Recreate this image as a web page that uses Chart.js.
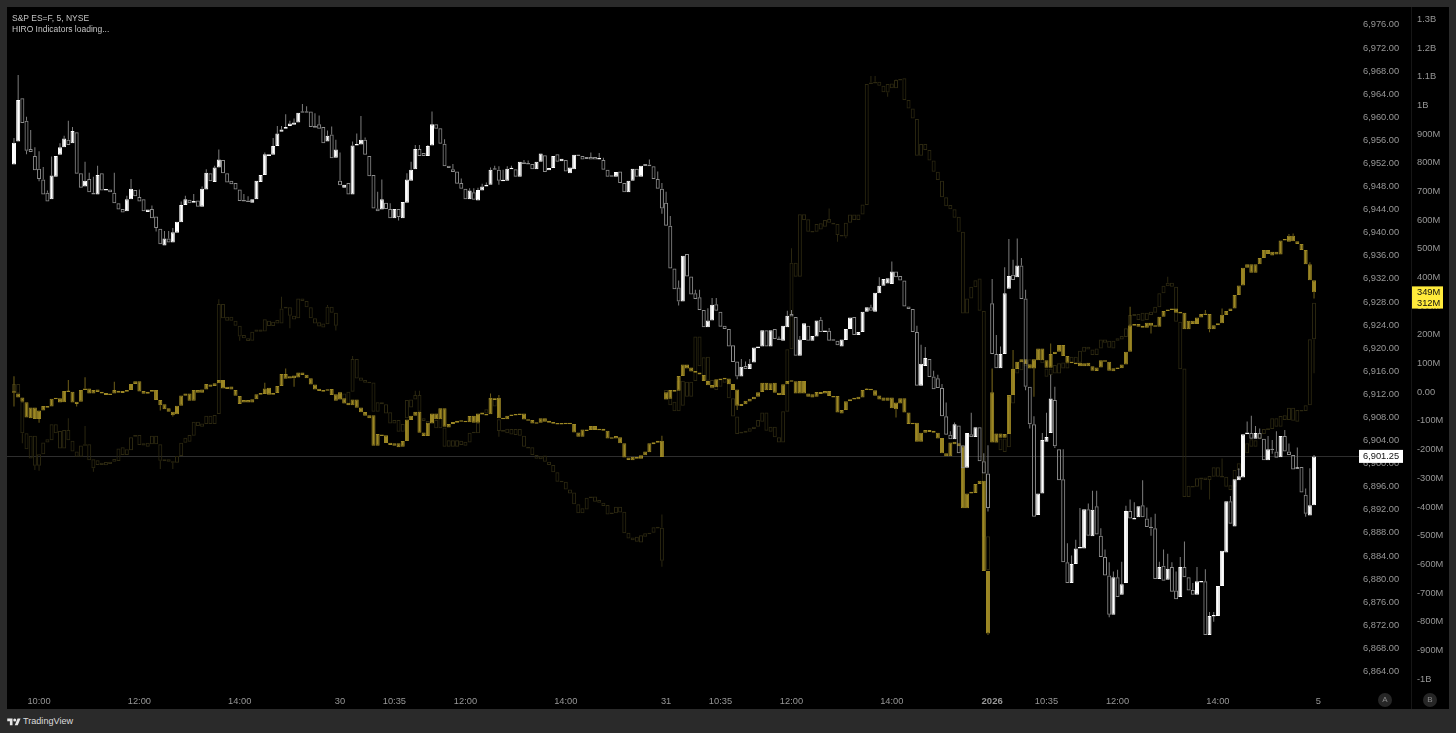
<!DOCTYPE html>
<html>
<head>
<meta charset="utf-8">
<title>S&amp;P ES=F HIRO</title>
<script src="https://cdn.jsdelivr.net/npm/chart.js@4/dist/chart.umd.min.js"></script>
<style>
    html, body { margin: 0; height: 100%; background: #2a2a2a; overflow: hidden; font-family: "Liberation Sans", sans-serif; }
    #panel { position: absolute; left: 7px; top: 7px; width: 1442px; height: 702px; background: #000; }
    #legend { position: absolute; left: 12px; top: 13px; font-size: 8.5px; line-height: 11px; color: #c4c4c4; }
    .badge { position: absolute; top: 693px; width: 14px; height: 14px; border-radius: 7px; background: #262626; color: #8a8a8a; font-size: 8px; line-height: 14px; text-align: center; }
    #brand { position: absolute; left: 7px; top: 714px; height: 14px; display: flex; align-items: center; gap: 2px; color: #dcdcdc; font-size: 9.1px; }
</style>
</head>
<body>
<div id="panel"><canvas id="myChart"></canvas></div>
<div id="legend">S&amp;P ES=F, 5, NYSE<br>HIRO Indicators loading...</div>
<div class="badge" style="left:1378px">A</div>
<div class="badge" style="left:1423px">B</div>
<div id="brand">
    <svg width="14" height="9" viewBox="0 0 36 24"><path fill="#e6e6e6" d="M14 22H7V11H0V4h14v18zM28 22h-8l7.5-18h8L28 22z"/><circle fill="#e6e6e6" cx="20" cy="8" r="4"/></svg>
    <span>TradingView</span>
</div>
<script>
// ── ES=F 5 min candles, four sessions ──
const esOpen = [
    6951.8,6955.8,6963.3,6959.4,6954.5,6953.3,6951.1,6949.2,6946.9,6945.8,
    6949.7,6953.5,6954.8,6956.1,6955.5,6957.4,6950.3,6948,6949.3,6946.9,
    6946.6,6950.3,6947.3,6947.5,6946.9,6945.1,6944.1,6943.7,6945.8,6947.4,
    6946.2,6945.8,6943.6,6944.1,6942.8,6940.7,6937.8,6939,6938.3,6940,
    6941.8,6944.8,6945.7,6945.2,6945.6,6944.5,6947.5,6950.3,6948.8,6951.3,
    6952.6,6950.3,6949,6948.6,6947.5,6945.7,6945.6,6945.2,6945.8,6948.8,
    6950,6953.3,6953.5,6955,6957.5,6958,6958.5,6958.7,6959.1,6961,
    6961,6961,6958.5,6958.8,6958.3,6955.8,6957,6953,6949,6947.8,
    6948.6,6946.6,6955.1,6955.3,6956.1,6953.3,6950,6944.2,6944,6945.2,
    6944.1,6942.5,6944.1,6942.5,6945.2,6949,6951,6954.5,6953.8,6953.3,
    6955.1,6958.8,6958.1,6955.4,6951.6,6951,6950.6,6948.6,6947.6,6945.8,
    6947,6945.6,6947.3,6948,6948.3,6951.1,6950.9,6948.9,6949,6951,
    6951,6949.7,6952.2,6951.9,6951.9,6951,6952.3,6953.4,6950.8,6951.2,
    6953.6,6952.4,6952.6,6950.3,6951,6953.5,6953.3,6952.8,6953.1,6953.1,
    6952.7,6952.6,6950.9,6949.8,6949.7,6950.6,6948.6,6947,6949,6951.1,
    6949.7,6951.6,6951.8,6951.5,6949.3,6947.6,6945.2,6941.2,6933.8,6930.5,
    6928.1,6936.3,6932.4,6929.5,6928.8,6926.6,6923.6,6924.8,6927.6,6926.3,
    6923.9,6923.3,6920.5,6917.7,6915.1,6916.9,6916.4,6917.5,6920,6920.3,
    6923.1,6920.3,6923.3,6921.5,6921.3,6923.6,6925.9,6925.4,6918.7,6921.4,
    6923.9,6921.3,6922,6924.9,6922.8,6923,6921.4,6921.3,6920.3,6921.4,
    6923.3,6925.4,6922.3,6922.8,6926.3,6927.1,6926.3,6929.5,6930.8,6931.2,
    6931.1,6933.3,6932.5,6931.7,6927.2,6926.8,6922.8,6913.5,6916.9,6918.1,
    6915.1,6914.8,6913.1,6908.2,6905,6904.2,6906.6,6903.2,6899.3,6905.1,
    6904.6,6906.3,6900.4,6898.3,6927.8,6919,6916.5,6919,6930.3,6932.7,
    6932.3,6934.3,6928.6,6913.3,6906.8,6891.1,6894.8,6903.8,6905.3,6911,
    6902.5,6897.3,6882.9,6879.3,6882.6,6885.3,6885.3,6892.1,6887.4,6892.6,
    6887.5,6883.8,6880.6,6873.8,6880.3,6877.3,6879.3,6891.8,6890.3,6890.7,
    6892.8,6890.5,6889,6888.8,6880,6882.3,6879.9,6882.1,6878,6876.9,
    6882.1,6880.3,6878.1,6877.3,6879.4,6879.6,6870.3,6873.5,6873.6,6878.8,
    6884.6,6893.5,6889.1,6897.1,6897.6,6905.1,6905.3,6904.3,6905.3,6904.3,
    6900.6,6902.5,6902.1,6901.1,6904.8,6902.1,6901.5,6899.1,6899.4,6894.6,6891,6892.8
];
const esClose = [
    6955.6,6963,6959,6954.2,6954,6950.8,6949.3,6946.6,6945.4,6949.9,
    6953.3,6954.8,6956.3,6955.2,6957.6,6950.2,6947.8,6949,6947,6946.6,
    6950,6947.3,6947.5,6947,6945.1,6944,6943.5,6945.8,6947.6,6946.3,
    6945.4,6943.7,6944,6942.5,6940.8,6938,6939,6938.3,6940.1,6941.9,
    6944.8,6945.8,6945.1,6945.5,6944.5,6947.6,6950.4,6948.9,6951.3,6952.7,
    6950.3,6948.7,6948.4,6947.5,6945.5,6945.4,6945.3,6945.8,6949,6950,
    6953.6,6953.6,6955,6957.2,6957.9,6958.3,6958.9,6959.1,6960.8,6960.8,
    6960.8,6958.3,6958.2,6958,6955.5,6956.8,6952.9,6954.4,6948.2,6948.3,
    6946.6,6955.1,6955.3,6956.1,6953.5,6949.8,6944.2,6943.7,6945.8,6944.1,
    6942.5,6944.1,6942.7,6945.3,6949.2,6950.9,6954.5,6953.3,6953.3,6955,
    6958.8,6958,6955.4,6951.5,6951.2,6950.5,6948.5,6947.6,6945.8,6947.3,
    6945.7,6947.4,6948,6948.3,6950.9,6950.9,6949,6949,6951.1,6951.1,
    6949.7,6952.3,6951.9,6951.8,6951,6952.3,6953.7,6950.5,6951.2,6953.3,
    6952.3,6952.8,6950.6,6951.3,6953.5,6953.3,6952.7,6953,6952.7,6952.7,
    6953,6950.9,6949.7,6949.7,6950.5,6948.6,6947,6949,6951.1,6949.7,
    6951.6,6951.8,6951.5,6949.3,6947.6,6944.2,6941.2,6933.8,6930.2,6928.1,
    6936,6932.4,6929.3,6928.5,6926.6,6923.6,6924.8,6927.5,6926.5,6923.7,
    6923.3,6920.3,6917.6,6915.1,6916.8,6916.4,6917.3,6920.1,6920.3,6923.1,
    6920.3,6923.1,6921.6,6921.4,6923.9,6925.6,6925.5,6918.7,6921.5,6924.3,
    6921.3,6922.1,6924.8,6922.8,6923,6921.3,6921.3,6920.5,6921.5,6923.3,
    6925.3,6922.3,6922.8,6926.3,6927.1,6926.5,6929.6,6930.8,6932,6932.1,
    6933.3,6932.3,6931.7,6927.2,6926.8,6922.8,6913.5,6917.3,6918.3,6915,
    6912.9,6913.1,6908.2,6905,6904.2,6906.8,6901.8,6899.2,6905.3,6904.6,
    6906.3,6900.4,6898.3,6892.3,6919,6916.5,6919,6929.5,6932.5,6931.8,
    6934.3,6928.5,6913.3,6906.8,6890.8,6894.8,6904.1,6904.6,6911.3,6903,
    6897.1,6882.9,6879.3,6882.6,6885.3,6885.5,6892.1,6887.5,6892,6887.7,
    6883.8,6880.6,6873.8,6880.3,6876.9,6879.1,6891.8,6890.5,6890.5,6892.6,
    6890.7,6889,6888.8,6880,6882.1,6879.7,6881.8,6877.8,6876.5,6882.1,
    6880.3,6878,6877.3,6879.6,6879.6,6870.3,6873.6,6873.6,6878.8,6884.9,
    6893.5,6889.6,6897.3,6897.8,6905.1,6905.4,6904.3,6905.3,6904.3,6900.6,
    6902.5,6902.3,6901,6904.8,6902.1,6901.5,6899,6899.3,6895,6891.3,6892.8,6901.25
];
// wicks: [bar, price]
const esHighs = [
    [0,6956.4],[1,6967.3],[3,6960.1],[4,6957.8],[5,6954.8],[6,6954.1],[7,6951.4],[8,6947.3],[9,6953.2],[11,6955.5],[12,6956.8],[13,6959.4],[14,6958.3],
    [17,6952.3],[18,6950.4],[19,6949.7],[20,6951.6],[24,6950.4],[27,6946.4],[28,6949.3],[30,6947.5],[33,6944.7],[36,6940.3],[37,6940.3],[38,6940.8],[40,6945.4],[41,6946.4],
    [43,6946.7],[45,6948],[46,6951],[48,6951.6],[49,6954.4],[55,6946.7],[56,6946.3],[60,6953.9],[62,6956.4],[63,6958.5],[64,6958.5],[65,6960.5],[66,6959.4],[67,6959.8],
    [69,6962.3],[70,6961.9],[72,6960.7],[73,6960.3],[75,6957.7],[76,6958.4],[77,6956.1],[78,6953.9],[81,6955.8],[82,6957.2],[83,6960.2],[84,6956.5],[87,6947.1],[88,6949.2],
    [90,6945.1],[94,6950.3],[95,6952.3],[96,6955.2],[97,6955.2],[99,6955.2],[100,6961],[103,6956.2],[105,6951.9],[107,6949.4],[109,6947.7],[110,6947.7],[111,6947.8],[112,6948.5],
    [113,6948.7],[114,6951.3],[115,6951.6],[116,6951.5],[117,6950.9],[118,6951.5],[119,6951.6],[122,6952.6],[123,6952.5],[138,6953.9],[140,6953.8],[141,6953],[152,6952.7],
    [154,6950.6],[155,6948.6],[156,6947.1],[157,6942.9],[159,6931.7],[163,6930.1],[164,6930.1],[166,6926.9],[167,6928.7],[168,6928.7],[174,6918.1],[175,6917.7],[176,6918.1],
    [183,6922],[185,6926.5],[186,6926.6],[188,6922.1],[193,6925.4],[195,6923.5],[205,6927.5],[207,6932.3],[210,6935],[216,6923.9],[217,6920.6],[218,6920.2],[220,6916.1],
    [221,6915.4],[222,6913.8],[223,6910.6],[224,6905.6],[225,6907.1],[229,6908.8],[232,6901.8],[233,6903.2],[234,6932],[235,6922.3],[236,6920.3],[237,6934],[238,6938.9],
    [239,6935.3],[240,6939],[241,6935.6],[242,6930.1],[244,6908.2],[246,6905.3],[247,6908.8],[248,6915.4],[249,6913.3],[251,6902.5],[252,6886.2],[253,6884.1],[254,6886.8],
    [255,6892.3],[257,6893.1],[258,6895.3],[259,6895.3],[260,6888.8],[261,6885.1],[262,6882.9],[263,6881.3],[264,6881.6],[265,6883],[266,6892.7],[267,6893.8],[268,6893.3],
    [270,6897.1],[271,6892.4],[272,6890.7],[273,6891.3],[274,6883],[275,6885.1],[276,6884.4],[277,6882.9],[278,6881.3],[279,6883.8],[280,6886.5],[282,6879.3],[283,6882.1],
    [285,6881.7],[286,6874.3],[287,6874.3],[291,6894.4],[293,6899.2],[295,6907.3],[296,6908.3],[297,6906.5],[298,6906.1],[300,6904.8],[301,6904.1],[302,6905.6],[304,6905.8],
    [305,6903.5],[307,6902.8],[309,6895.7],[310,6899.2],[311,6901.5]
];
const esLows = [
    [3,6953.6],[6,6948.9],[34,6940.2],[92,6942.1],[116,6948.3],[155,6943.3],[159,6927.4],[173,6914.6],[233,6891.7],[242,6912.7],[243,6906.1],[249,6902.7],[262,6873.4],
    [272,6887.5],[287,6872.6],[301,6901.7],[309,6890.8]
];

// ── HIRO trace 349M, filled candles, in millions ──
const hiroATop = [
    2,-4,-18,-35,-53,-53,-64,-48,-48,-23,-19,-21,4,3,2,-33,8,13,13,8,
    10,2,-3,-4,8,5,4,8,29,38,38,4,2,8,8,-27,-42,-56,-68,-47,
    -11,-4,-4,8,8,10,29,27,31,43,43,19,20,8,-13,-27,-27,-24,-7,-3,
    13,16,-3,22,64,64,56,58,69,69,61,49,27,12,8,10,11,-7,0,-21,
    -37,-25,-25,-53,-69,-80,-80,-146,-147,-150,-176,-178,-178,-170,-95,-82,-68,-68,-140,-106,
    -74,-74,-56,-56,-111,-104,-99,-98,-99,-83,-82,-74,-71,-76,-19,-21,-19,-89,-82,-78,
    -76,-74,-74,-94,-97,-105,-91,-91,-99,-104,-107,-107,-106,-106,-111,-140,-130,-130,-118,-118,
    -127,-127,-134,-157,-153,-157,-178,-228,-225,-226,-220,-207,-178,-174,-169,-169,
    0,8,8,57,97,97,86,74,69,60,39,25,45,48,48,48,29,10,-41,-30,
    -23,-16,0,33,33,31,33,-2,28,39,39,38,39,39,-4,-7,1,1,4,4,
    -13,-13,-62,-31,-24,-19,-16,8,10,9,7,-11,-18,-18,-18,-36,-21,-21,-71,-106,
    -106,-141,-132,-132,-134,-141,-160,-213,-175,-173,-178,-188,-353,-347,-320,-309,-309,-623,
    0,-144,-144,-146,-10,81,106,115,115,98,115,153,153,112,133,141,165,165,126,104,
    103,103,101,103,91,86,112,112,106,84,85,97,141,234,238,238,232,242,242,232,
    263,283,289,291,292,281,277,249,249,261,273,275,273,234,241,270,283,292,339,372,
    434,446,446,446,468,496,496,490,490,529,533,546,546,527,517,496,446,391
];
const hiroABottom = [
    -2,-18,-33,-88,-91,-93,-93,-64,-54,-50,-21,-36,-35,1,-36,-41,-33,8,-4,-4,
    1,-4,-10,-10,-4,-2,-3,2,8,29,3,-5,-5,2,-27,-45,-59,-68,-80,-77,
    -47,-12,-30,-30,-2,-2,10,19,22,31,13,11,10,-12,-41,-36,-36,-36,-24,-9,
    -6,-9,-9,-3,22,47,48,49,51,60,49,27,10,4,2,5,-10,-30,-24,-39,
    -45,-45,-54,-70,-82,-91,-187,-187,-153,-177,-184,-187,-192,-190,-170,-97,-82,-141,-153,-153,
    -109,-94,-94,-120,-123,-111,-106,-103,-104,-105,-106,-106,-77,-81,-77,-27,-91,-94,-94,-83,
    -81,-76,-95,-99,-109,-109,-106,-103,-106,-110,-112,-112,-111,-111,-140,-155,-155,-132,-132,-132,
    -132,-134,-161,-161,-161,-178,-228,-236,-237,-232,-232,-220,-209,-181,-176,-226,
    -24,-23,2,5,57,83,72,68,62,39,24,16,17,43,45,28,8,-47,-48,-42,
    -32,-24,-16,1,7,8,-2,-10,-10,28,37,-4,-4,-4,-16,-18,-16,-6,-4,-13,
    -16,-71,-74,-62,-31,-25,-24,-18,8,7,-12,-25,-30,-30,-56,-59,-39,-71,-111,-108,
    -173,-173,-141,-139,-141,-161,-213,-223,-223,-181,-188,-405,-405,-353,-351,-320,-623,-841,
    -175,-175,-159,-159,-146,-10,81,105,98,83,83,112,112,85,85,133,141,126,103,101,
    98,91,91,91,75,74,86,106,75,73,81,84,97,141,232,228,225,225,232,228,
    228,263,283,287,277,275,220,220,238,238,261,269,220,220,234,241,269,283,292,339,
    372,434,417,417,446,468,482,477,480,480,529,525,527,517,496,446,391,349
];
const hiroAHighs = [
    [0,56],[13,43],[17,52],[24,37],[60,33],[65,83],[114,-4],[116,-10],[155,-152],[204,13],[234,83],[239,147],[248,170],[267,298],[285,287],[289,292],[305,552],[306,554],[310,453]
];
const hiroALows = [
    [0,-50],[6,-106],[15,-50],[35,-64],[38,-85],[67,19],[173,-62],[211,-88],[233,-847],[244,-16],[272,205],[286,209],[311,327]
];

// ── HIRO trace 312M, faint hollow candles, in millions ──
const hiroBTop = [
    29,29,-33,-143,-152,-152,-216,-175,-164,-112,-112,-135,-132,-132,-169,-207,-186,-181,-181,-234,
    -237,-246,-243,-242,-233,-196,-192,-199,-157,-149,-149,-178,-176,-152,-152,-181,-234,-234,-241,-222,
    -176,-159,-149,-103,-103,-109,-82,-82,-79,308,308,263,263,249,232,200,188,211,219,219,
    255,249,246,252,292,298,296,267,327,327,318,296,258,244,240,298,298,277,2,-4,
    2,116,116,51,43,34,34,-35,-35,-42,-70,-97,-97,-111,-27,-25,-10,-10,-91,-100,
    -91,-97,-56,-123,-167,-167,-167,-169,-173,-141,-138,-106,-74,-59,-21,-21,-94,-132,-127,-128,
    -128,-128,-152,-190,-192,-219,-223,-221,-242,-254,-279,-309,-312,-339,-350,-391,-405,-368,-364,-364,
    -376,-385,-393,-419,-399,-399,-417,-490,-507,-504,-499,-492,-490,-471,-469,-473,
    8,-19,-33,40,40,37,37,194,194,122,124,43,43,45,48,31,-21,-85,-138,-134,
    -126,-120,-97,-71,-71,-120,-120,-157,-66,150,452,452,621,621,603,562,587,589,601,604,
    591,587,548,591,620,620,620,655,1075,1080,1083,1083,1069,1075,1077,1089,1092,1095,1019,990,
    953,866,866,845,808,769,738,680,653,638,612,560,327,368,391,397,283,-502,
    -132,-144,-161,-161,-10,83,106,112,112,115,115,147,147,83,83,95,101,104,104,124,
    124,145,159,159,149,153,184,184,180,180,188,196,223,269,273,273,277,277,281,298,
    345,371,382,382,368,246,83,-326,-327,-300,-297,-297,-292,-262,-262,-292,-295,-324,-271,-248,
    -213,-178,-164,-167,-144,-128,-126,-91,-91,-83,-80,-54,-54,-62,-62,-45,185,312
];
const hiroBBottom = [
    2,-4,-143,-199,-231,-256,-256,-216,-175,-167,-143,-196,-196,-167,-207,-225,-225,-186,-237,-265,
    -254,-254,-255,-250,-242,-240,-219,-219,-202,-155,-184,-186,-190,-181,-181,-239,-241,-242,-246,-246,
    -222,-176,-173,-152,-118,-120,-111,-111,-111,-76,258,249,249,232,194,188,179,180,211,211,
    212,231,231,240,240,292,267,254,258,318,296,258,240,229,226,237,277,232,-27,-39,
    -45,2,48,40,33,31,-68,-68,-42,-74,-109,-109,-138,-138,-91,-53,-25,-68,-100,-114,
    -103,-126,-126,-190,-190,-190,-190,-184,-187,-175,-143,-143,-79,-74,-27,-50,-135,-138,-143,-147,
    -149,-152,-190,-196,-219,-232,-234,-242,-254,-279,-312,-314,-339,-353,-391,-422,-422,-409,-368,-382,
    -385,-397,-426,-422,-422,-419,-492,-510,-516,-521,-524,-504,-495,-490,-475,-588,
    -27,-45,-66,-66,-47,-16,-16,39,91,43,40,13,8,19,33,-21,-85,-146,-144,-141,
    -138,-128,-120,-103,-134,-138,-157,-175,-175,-68,150,403,403,601,560,557,560,568,577,591,
    585,548,543,543,591,601,601,620,653,1075,1077,1069,1046,1045,1060,1060,1087,1019,990,955,
    825,825,845,808,769,740,680,649,638,609,560,275,275,327,366,284,-504,-620,
    -175,-178,-202,-208,-192,-39,65,77,91,87,83,112,101,54,60,65,65,83,83,103,
    101,103,141,149,130,130,153,173,155,153,180,184,193,234,266,252,249,252,269,277,
    296,345,370,368,246,80,-365,-365,-332,-330,-304,-306,-306,-295,-295,-297,-330,-341,-330,-271,
    -248,-213,-190,-190,-164,-146,-132,-128,-120,-120,-97,-97,-99,-103,-66,-65,-45,185
];
const hiroBHighs = [
    [13,-91],[17,-118],[49,324],[64,333],[75,304],[81,126],[96,5],[97,5],[155,-426],[186,502],[195,641],[205,1103],[206,1103],[211,1091],[234,83],[276,403],[289,-231]
];
const hiroBLows = [
    [2,-178],[5,-271],[6,-274],[19,-277],[35,-268],[38,-268],[54,180],[66,223],[77,215],[116,-155],[155,-609],[197,525],[199,537],[209,1031],[284,-340],[286,-374],[311,66]
];

// ── axes ──
const priceTicks = [6976,6972,6968,6964,6960,6956,6952,6948,6944,6940,6936,6932,6928,6924,6920,6916,6912,6908,6904,6900,6896,6892,6888,6884,6880,6876,6872,6868,6864];
const hiroTicks = [1300,1200,1100,1000,900,800,700,600,500,400,300,200,100,0,-100,-200,-300,-400,-500,-600,-700,-800,-900,-1000];
const timeBars = [6,30,54,78,91,108,132,156,169,186,210,234,247,264,288,312];
const timeLabels = ['10:00','12:00','14:00','30','10:35','12:00','14:00','31','10:35','12:00','14:00','2026','10:35','12:00','14:00','5'];
const lastPrice = 6901.25, lastA = 349, lastB = 312;

const FONT = '"Liberation Sans", sans-serif';

function fmtHiro(v) {
    if (v === 0) return '0.00';
    return Math.abs(v) >= 1000 ? (v / 1000) + 'B' : v + 'M';
}

function wickData(pairs, tops) {
    return pairs.map(([i, v]) => ({ x: i, y: [tops[i], v] }));
}

function maxOf(a, b) { return a.map((v, i) => Math.max(v, b[i])); }
function minOf(a, b) { return a.map((v, i) => Math.min(v, b[i])); }

const bodyBase = { type: 'bar', barThickness: 4, barPercentage: 1, categoryPercentage: 1, minBarLength: 1.5, borderWidth: 1, borderSkipped: false, inflateAmount: 0 };
const wickBase = { type: 'bar', barThickness: 1, barPercentage: 1, categoryPercentage: 1, borderWidth: 0, inflateAmount: 0 };

const esUp = esOpen.map((o, i) => esClose[i] >= o);
const esTop = maxOf(esOpen, esClose), esBottom = minOf(esOpen, esClose);

const datasets = [
    { ...bodyBase, yAxisID: 'price', data: esOpen.map((o, i) => ({ x: i, y: [o, esClose[i]] })),
      backgroundColor: esUp.map(u => u ? '#ffffff' : 'rgba(0,0,0,0)'), borderColor: esUp.map(u => u ? '#ffffff' : '#8c8c8c') },
    { ...wickBase, yAxisID: 'price', data: wickData(esHighs, esTop), backgroundColor: '#7d7d7d' },
    { ...wickBase, yAxisID: 'price', data: wickData(esLows, esBottom), backgroundColor: '#7d7d7d' },

    { ...bodyBase, yAxisID: 'hiro', data: hiroATop.map((t, i) => ({ x: i, y: [hiroABottom[i], t] })), backgroundColor: '#9c8724', borderColor: '#9c8724' },
    { ...wickBase, yAxisID: 'hiro', data: wickData(hiroAHighs, hiroATop), backgroundColor: '#6f5f18' },
    { ...wickBase, yAxisID: 'hiro', data: wickData(hiroALows, hiroABottom), backgroundColor: '#6f5f18' },

    { ...bodyBase, yAxisID: 'hiro', data: hiroBTop.map((t, i) => ({ x: i, y: [hiroBBottom[i], t] })), backgroundColor: 'rgba(0,0,0,0)', borderColor: '#2b2710' },
    { ...wickBase, yAxisID: 'hiro', data: wickData(hiroBHighs, hiroBTop), backgroundColor: '#2b2710' },
    { ...wickBase, yAxisID: 'hiro', data: wickData(hiroBLows, hiroBBottom), backgroundColor: '#2b2710' }
];

// price line, axis separator and the last value tags
const overlay = {
    id: 'overlay',
    beforeDatasetsDraw(chart) {
        const ctx = chart.ctx, p = chart.scales.price, h = chart.scales.hiro;
        ctx.save();
        ctx.fillStyle = '#161616';
        ctx.fillRect(h.left, 0, 1, chart.height);
        ctx.fillStyle = '#2e2e2e';
        ctx.fillRect(0, Math.round(p.getPixelForValue(lastPrice)), p.left + 4, 1);
        ctx.restore();
    },
    afterDraw(chart) {
        const ctx = chart.ctx, p = chart.scales.price, h = chart.scales.hiro;
        ctx.save();
        ctx.textBaseline = 'middle';
        ctx.font = '9.3px ' + FONT;
        const py = p.getPixelForValue(lastPrice);
        ctx.fillStyle = '#fff';
        ctx.fillRect(p.left + 4, py - 6.5, 44, 13);
        ctx.fillStyle = '#111';
        ctx.fillText(lastPrice.toLocaleString('en-US', { minimumFractionDigits: 2 }), p.left + 8, py + 0.5);
        [lastA, lastB].forEach(v => {
            const y = h.getPixelForValue(v);
            ctx.fillStyle = '#ffeb3b';
            ctx.fillRect(h.left + 1, y - 5.8, 31, 11.6);
            ctx.fillStyle = '#111';
            ctx.fillText(v + 'M', h.left + 6, y + 0.5);
        });
        ctx.restore();
    }
};

function noOverhang(scale) { scale.paddingTop = 0; scale.paddingBottom = 0; scale.paddingLeft = 0; scale.paddingRight = 0; }

new Chart(document.getElementById('myChart').getContext('2d'), {
    data: { datasets },
    plugins: [overlay],
    options: {
        responsive: true,
        maintainAspectRatio: false,
        animation: false,
        parsing: { xAxisKey: 'x', yAxisKey: 'y' },
        layout: { padding: 0 },
        datasets: { bar: { grouped: false } },
        plugins: { legend: { display: false }, tooltip: { enabled: false }, title: { display: false } },
        scales: {
            x: {
                type: 'linear', min: -1.67, max: 320.8, offset: false,
                grid: { display: false, drawTicks: false }, border: { display: false },
                afterBuildTicks: s => { s.ticks = timeBars.map(v => ({ value: v })); },
                afterFit: s => { s.height = 22; noOverhang(s); },
                ticks: {
                    autoSkip: false, maxRotation: 0, padding: 9, color: '#979797',
                    font: c => (c.index === 11 ? { family: FONT, size: 9.5, weight: 'bold' } : { family: FONT, size: 9.3 }),
                    callback: (v, i) => timeLabels[i]
                }
            },
            price: {
                type: 'linear', position: 'right', min: 6861.3, max: 6979.1, offset: false,
                grid: { display: false, drawTicks: false }, border: { display: false },
                afterBuildTicks: s => { s.ticks = priceTicks.map(v => ({ value: v })); },
                afterFit: s => { s.width = 56; noOverhang(s); },
                ticks: { autoSkip: false, padding: 8, color: '#979797', font: { family: FONT, size: 9.3 },
                    callback: v => v.toLocaleString('en-US', { minimumFractionDigits: 2 }) }
            },
            hiro: {
                type: 'linear', position: 'right', min: -1028, max: 1343.6, offset: false,
                grid: { display: false, drawTicks: false }, border: { display: false },
                afterBuildTicks: s => { s.ticks = hiroTicks.map(v => ({ value: v })); },
                afterFit: s => { s.width = 38; noOverhang(s); },
                ticks: { autoSkip: false, padding: 6, color: '#979797', font: { family: FONT, size: 9.3 }, callback: fmtHiro }
            }
        }
    }
});
</script>
</body>
</html>
